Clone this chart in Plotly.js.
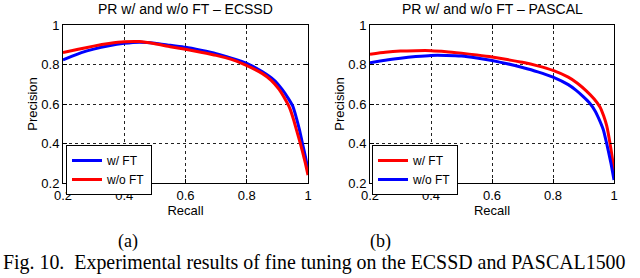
<!DOCTYPE html>
<html>
<head>
<meta charset="utf-8">
<script src="https://cdn.plot.ly/plotly-3.0.1.min.js"></script>
<style>html,body{margin:0;padding:0;background:#fff;}#chart{width:640px;height:278px;}</style>
</head>
<body>
<div id="chart"></div>
<script>
// ECSSD panel (a)
const ecssdWithFTRecall = [0.20,0.23,0.26,0.30,0.35,0.40,0.45,0.50,0.55,0.60,0.65,0.70,0.75,0.80,0.85,0.889,0.915,0.935,0.95,0.962,0.972,0.982,0.992,1.00];
const ecssdWithFTPrec   = [0.823,0.842,0.860,0.878,0.895,0.907,0.913,0.908,0.897,0.887,0.872,0.855,0.832,0.806,0.764,0.721,0.675,0.630,0.590,0.530,0.470,0.400,0.330,0.265];
const ecssdWithoutFTRecall = [0.20,0.25,0.30,0.35,0.40,0.45,0.50,0.55,0.60,0.65,0.70,0.75,0.797,0.85,0.879,0.905,0.925,0.94,0.953,0.964,0.975,0.99,1.00];
const ecssdWithoutFTPrec   = [0.860,0.877,0.893,0.906,0.915,0.916,0.905,0.890,0.877,0.862,0.846,0.826,0.797,0.755,0.721,0.675,0.625,0.580,0.520,0.460,0.400,0.310,0.240];
// PASCAL panel (b)
const pascalWithFTRecall = [0.20,0.25,0.30,0.35,0.40,0.45,0.50,0.55,0.60,0.65,0.70,0.75,0.80,0.85,0.88,0.91,0.935,0.954,0.966,0.976,0.987,0.995,1.00];
const pascalWithFTPrec   = [0.852,0.862,0.868,0.870,0.870,0.865,0.857,0.848,0.838,0.825,0.811,0.793,0.770,0.736,0.705,0.665,0.625,0.585,0.540,0.490,0.400,0.320,0.255];
const pascalWithoutFTRecall = [0.20,0.25,0.30,0.35,0.40,0.45,0.50,0.55,0.60,0.65,0.70,0.75,0.80,0.85,0.875,0.90,0.92,0.938,0.952,0.965,0.976,0.99,1.00];
const pascalWithoutFTPrec   = [0.809,0.822,0.832,0.840,0.846,0.846,0.843,0.833,0.820,0.804,0.785,0.763,0.736,0.698,0.670,0.636,0.605,0.565,0.520,0.470,0.400,0.300,0.215];

const seriesNames = ['w/ FT', 'w/o FT'];
const panelTitles = ['PR w/ and w/o FT \u2013 ECSSD', 'PR w/ and w/o FT \u2013 PASCAL'];
const panelLabels = ['(a)', '(b)'];
const captionText = 'Fig. 10.  Experimental results of fine tuning on the ECSSD and PASCAL1500';
const tickVals = [0.2, 0.4, 0.6, 0.8, 1];
const tickText = ['0.2', '0.4', '0.6', '0.8', '1'];

const BLUE = '#0000ff', RED = '#ff0000';
const sans = 'Liberation Sans, Arial, sans-serif';
const serif = 'Liberation Serif, Times New Roman, serif';
const lineStyle = c => ({color: c, width: 3, shape: 'spline', smoothing: 0.5});

const traces = [
  {x: ecssdWithFTRecall, y: ecssdWithFTPrec, name: seriesNames[0], mode: 'lines', line: lineStyle(BLUE), xaxis: 'x', yaxis: 'y', legend: 'legend'},
  {x: ecssdWithoutFTRecall, y: ecssdWithoutFTPrec, name: seriesNames[1], mode: 'lines', line: lineStyle(RED), xaxis: 'x', yaxis: 'y', legend: 'legend'},
  {x: pascalWithFTRecall, y: pascalWithFTPrec, name: seriesNames[0], mode: 'lines', line: lineStyle(RED), xaxis: 'x2', yaxis: 'y2', legend: 'legend2'},
  {x: pascalWithoutFTRecall, y: pascalWithoutFTPrec, name: seriesNames[1], mode: 'lines', line: lineStyle(BLUE), xaxis: 'x2', yaxis: 'y2', legend: 'legend2'}
];

function xAx(domain, anchor) {
  return {
    domain: domain, anchor: anchor, range: [0.2, 1], tickvals: tickVals, ticktext: tickText,
    showline: true, mirror: 'ticks', linecolor: '#000', linewidth: 1,
    ticks: 'inside', ticklen: 4, tickcolor: '#000',
    showgrid: true, gridcolor: '#222', griddash: 'dot', gridwidth: 1, zeroline: false,
    tickfont: {family: sans, size: 13, color: '#000'},
    title: {text: 'Recall', font: {family: sans, size: 13, color: '#000'}, standoff: 0},
    fixedrange: true
  };
}
function yAx(domain, anchor) {
  return {
    domain: domain, anchor: anchor, range: [0.2, 1], tickvals: tickVals, ticktext: tickText,
    showline: true, mirror: 'ticks', linecolor: '#000', linewidth: 1,
    ticks: 'inside', ticklen: 4, tickcolor: '#000',
    showgrid: true, gridcolor: '#222', griddash: 'dot', gridwidth: 1, zeroline: false,
    tickfont: {family: sans, size: 13, color: '#000'},
    title: {text: 'Precision', font: {family: sans, size: 13, color: '#000'}, standoff: 0},
    fixedrange: true
  };
}

const W = 640, H = 278;
const yDom = [1 - 183 / H, 1 - 25 / H];
const legendStyle = {yanchor: 'top', xanchor: 'left', bgcolor: '#fff', bordercolor: '#000', borderwidth: 1,
  font: {family: sans, size: 12, color: '#000'}, tracegroupgap: 0, itemwidth: 30};
const layout = {
  width: W, height: H,
  margin: {l: 0, r: 0, t: 0, b: 0},
  paper_bgcolor: '#fff', plot_bgcolor: '#fff',
  showlegend: true,
  xaxis: xAx([63 / W, 308 / W], 'y'),
  yaxis: yAx(yDom, 'x'),
  xaxis2: xAx([370 / W, 614 / W], 'y2'),
  yaxis2: yAx(yDom, 'x2'),
  legend: Object.assign({x: 66 / W, y: 1 - 145 / H}, legendStyle),
  legend2: Object.assign({x: 372 / W, y: 1 - 145 / H}, legendStyle),
  annotations: [
    {text: panelTitles[0], x: 185.5 / W, y: 1 - 9 / H, xref: 'paper', yref: 'paper', xanchor: 'center', yanchor: 'middle', showarrow: false, font: {family: sans, size: 14, color: '#000'}},
    {text: panelTitles[1], x: 492 / W, y: 1 - 9 / H, xref: 'paper', yref: 'paper', xanchor: 'center', yanchor: 'middle', showarrow: false, font: {family: sans, size: 14, color: '#000'}},
    {text: panelLabels[0], x: 128 / W, y: 1 - 241 / H, xref: 'paper', yref: 'paper', xanchor: 'center', yanchor: 'middle', showarrow: false, font: {family: serif, size: 18, color: '#000'}},
    {text: panelLabels[1], x: 380 / W, y: 1 - 241 / H, xref: 'paper', yref: 'paper', xanchor: 'center', yanchor: 'middle', showarrow: false, font: {family: serif, size: 18, color: '#000'}},
    {text: captionText, x: 1 / W, y: 1 - 262 / H, xref: 'paper', yref: 'paper', xanchor: 'left', yanchor: 'middle', showarrow: false, font: {family: serif, size: 19.9, color: '#000'}}
  ]
};

Plotly.newPlot('chart', traces, layout, {staticPlot: true, displayModeBar: false});
</script>
</body>
</html>
